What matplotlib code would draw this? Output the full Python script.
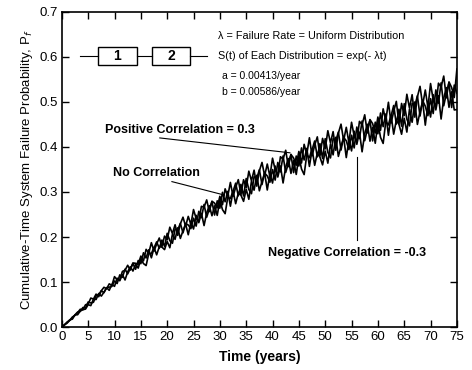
import numpy as np
import matplotlib.pyplot as plt
from matplotlib.patches import Rectangle

plt.rcParams['font.family'] = ['Liberation Sans', 'DejaVu Sans']

# time in years, half-year samples
years = np.arange(0, 75.5, 0.5)

# centre of the simulated band, in thousandths
band_centre = [0, 5, 10, 15, 20, 26, 31, 36, 41, 46,
               51, 56, 61, 66, 71, 76, 80, 85, 90, 95,
               100, 105, 110, 114, 119, 124, 129, 134, 138, 143,
               148, 153, 157, 162, 167, 171, 176, 181, 186, 190,
               195, 199, 203, 208, 212, 216, 220, 224, 229, 233,
               237, 241, 245, 249, 253, 256, 260, 264, 268, 272,
               276, 280, 283, 287, 290, 294, 298, 301, 305, 308,
               312, 315, 319, 322, 325, 329, 332, 335, 338, 342,
               345, 348, 350, 353, 356, 359, 361, 364, 367, 369,
               372, 375, 377, 380, 382, 385, 388, 390, 393, 395,
               398, 400, 402, 404, 407, 409, 411, 413, 416, 418,
               420, 423, 425, 428, 430, 433, 436, 438, 441, 443,
               446, 449, 451, 454, 456, 459, 462, 464, 467, 469,
               472, 475, 478, 480, 483, 486, 489, 492, 494, 497,
               500, 503, 505, 508, 510, 513, 515, 518, 520, 523,
               525]

# scatter of each simulated curve about the centre, in units of 0.0012
dev_positive = [0, 0, 1, 0, 2, 0, 1, 3, -2, 3,
                0, 7, 1, 6, -3, 4, 7, 0, 5, -2,
                10, 0, -4, 8, 6, 11, -2, 7, 3, -3,
                8, -5, 13, 2, 17, -2, 7, 14, -6, 10,
                -1, 19, 4, 16, -7, 11, 20, 0, 14, -4,
                20, 0, -8, 16, 11, 22, -3, 13, 6, -6,
                12, -7, 20, 3, 26, -3, 10, 22, -9, 16,
                -2, 26, 5, 22, -10, 15, 28, 1, 20, -6,
                25, 1, -11, 21, 14, 28, -4, 16, 7, -8,
                15, -9, 24, 3, 32, -4, 13, 27, -11, 20,
                -2, 30, 6, 25, -12, 18, 33, 1, 23, -7,
                29, 1, -12, 24, 16, 32, -4, 19, 9, -10,
                17, -10, 28, 4, 36, -5, 14, 31, -13, 23,
                -2, 35, 7, 30, -14, 21, 38, 1, 27, -8,
                34, 1, -14, 28, 19, 37, -5, 22, 10, -11,
                40]
dev_none = [0, 0, 0, 1, -2, 1, 2, -1, 2, -3,
            4, -2, -5, 3, 1, 4, -3, 2, -1, -4,
            2, -7, 5, -3, 8, -5, 1, 6, -8, 4,
            -6, 10, -3, 8, -11, 4, 11, -5, 6, -9,
            11, -6, -14, 8, 3, 12, -9, 5, -2, -12,
            4, -14, 10, -5, 16, -10, 2, 12, -16, 7,
            -10, 16, -4, 12, -18, 6, 18, -8, 10, -14,
            15, -8, -19, 10, 4, 17, -13, 6, -2, -17,
            4, -18, 13, -7, 20, -13, 2, 16, -20, 9,
            -12, 19, -5, 14, -21, 7, 21, -10, 12, -17,
            17, -10, -22, 12, 5, 20, -15, 7, -2, -20,
            5, -21, 16, -8, 23, -16, 3, 18, -23, 10,
            -14, 22, -5, 16, -25, 8, 25, -11, 14, -19,
            20, -11, -26, 14, 6, 23, -17, 9, -3, -23,
            6, -24, 18, -9, 27, -18, 3, 21, -27, 12,
            -5]
dev_negative = [0, 0, -1, 0, 0, 1, -3, 0, -2, -5,
                -1, -7, 1, -4, 3, -6, -2, 2, -7, 0,
                -8, 3, -6, 2, -12, -1, 4, -8, 1, -10,
                3, -10, -17, 1, -3, 5, -13, -2, -7, -15,
                -4, -19, 3, -11, 7, -16, -5, 4, -20, 0,
                -16, 6, -11, 3, -23, -2, 8, -14, 1, -20,
                5, -16, -26, 1, -4, 7, -20, -3, -10, -24,
                -5, -26, 4, -15, 10, -22, -7, 6, -28, -1,
                -21, 8, -14, 4, -30, -3, 11, -19, 2, -25,
                6, -20, -32, 2, -5, 9, -24, -3, -13, -29,
                -6, -30, 4, -18, 12, -25, -8, 7, -33, -1,
                -24, 10, -16, 4, -34, -3, 12, -21, 2, -29,
                7, -23, -36, 2, -6, 10, -28, -4, -14, -34,
                -7, -35, 5, -21, 14, -30, -9, 8, -38, -1,
                -28, 11, -19, 5, -40, -4, 14, -25, 2, -34,
                -35]

centre = np.array(band_centre) / 1000.0
p_positive = centre + np.array(dev_positive) * 0.0012
p_none = centre + np.array(dev_none) * 0.0012
p_negative = centre + np.array(dev_negative) * 0.0012

fig = plt.figure(figsize=(4.72, 3.70), dpi=100)
ax = fig.add_axes([0.131, 0.116, 0.837, 0.852])

for series in (p_positive, p_none, p_negative):
    ax.plot(years, series, color='black', lw=1.2)

ax.set_xlim(0, 75)
ax.set_ylim(0, 0.7)
ax.set_xticks(range(0, 80, 5))
ax.set_yticks(np.arange(0, 0.71, 0.1))
ax.set_yticklabels(['0.0', '0.1', '0.2', '0.3', '0.4', '0.5', '0.6', '0.7'])
ax.tick_params(direction='in', length=5, width=1, top=True, right=True,
               labelsize=9.5, pad=3)
for s in ax.spines.values():
    s.set_linewidth(1.2)

ax.set_xlabel('Time (years)', fontsize=10, fontweight='bold', labelpad=5)
ax.set_ylabel('Cumulative-Time System Failure Probability, P$_f$', fontsize=9.5, labelpad=3)

# series block diagram
ax.plot([3.4, 6.8], [0.603, 0.603], color='black', lw=0.8)
ax.plot([14.2, 17.1], [0.603, 0.603], color='black', lw=0.8)
ax.plot([24.3, 27.5], [0.603, 0.603], color='black', lw=0.8)
ax.add_patch(Rectangle((6.8, 0.583), 7.4, 0.04, fill=False, lw=1.0))
ax.add_patch(Rectangle((17.1, 0.583), 7.2, 0.04, fill=False, lw=1.0))
ax.text(10.5, 0.603, '1', ha='center', va='center', fontsize=10, fontweight='bold')
ax.text(20.7, 0.603, '2', ha='center', va='center', fontsize=10, fontweight='bold')

ax.text(29.6, 0.646, 'λ = Failure Rate = Uniform Distribution', fontsize=7.8, va='center')
ax.text(29.6, 0.602, 'S(t) of Each Distribution = exp(- λt)', fontsize=7.8, va='center')
ax.text(30.4, 0.557, 'a = 0.00413/year', fontsize=7.5, va='center')
ax.text(30.4, 0.523, 'b = 0.00586/year', fontsize=7.5, va='center')

# curve labels
ax.text(8.2, 0.438, 'Positive Correlation = 0.3', fontsize=9, fontweight='bold', va='center')
ax.plot([18.6, 43.3], [0.420, 0.387], color='black', lw=0.8)
ax.text(9.7, 0.342, 'No Correlation', fontsize=9, fontweight='bold', va='center')
ax.plot([20.9, 30.9], [0.323, 0.293], color='black', lw=0.8)
ax.text(39.1, 0.164, 'Negative Correlation = -0.3', fontsize=9, fontweight='bold', va='center')
ax.plot([56.0, 56.0], [0.378, 0.193], color='black', lw=0.8)

fig.savefig('out.png', dpi=100)
